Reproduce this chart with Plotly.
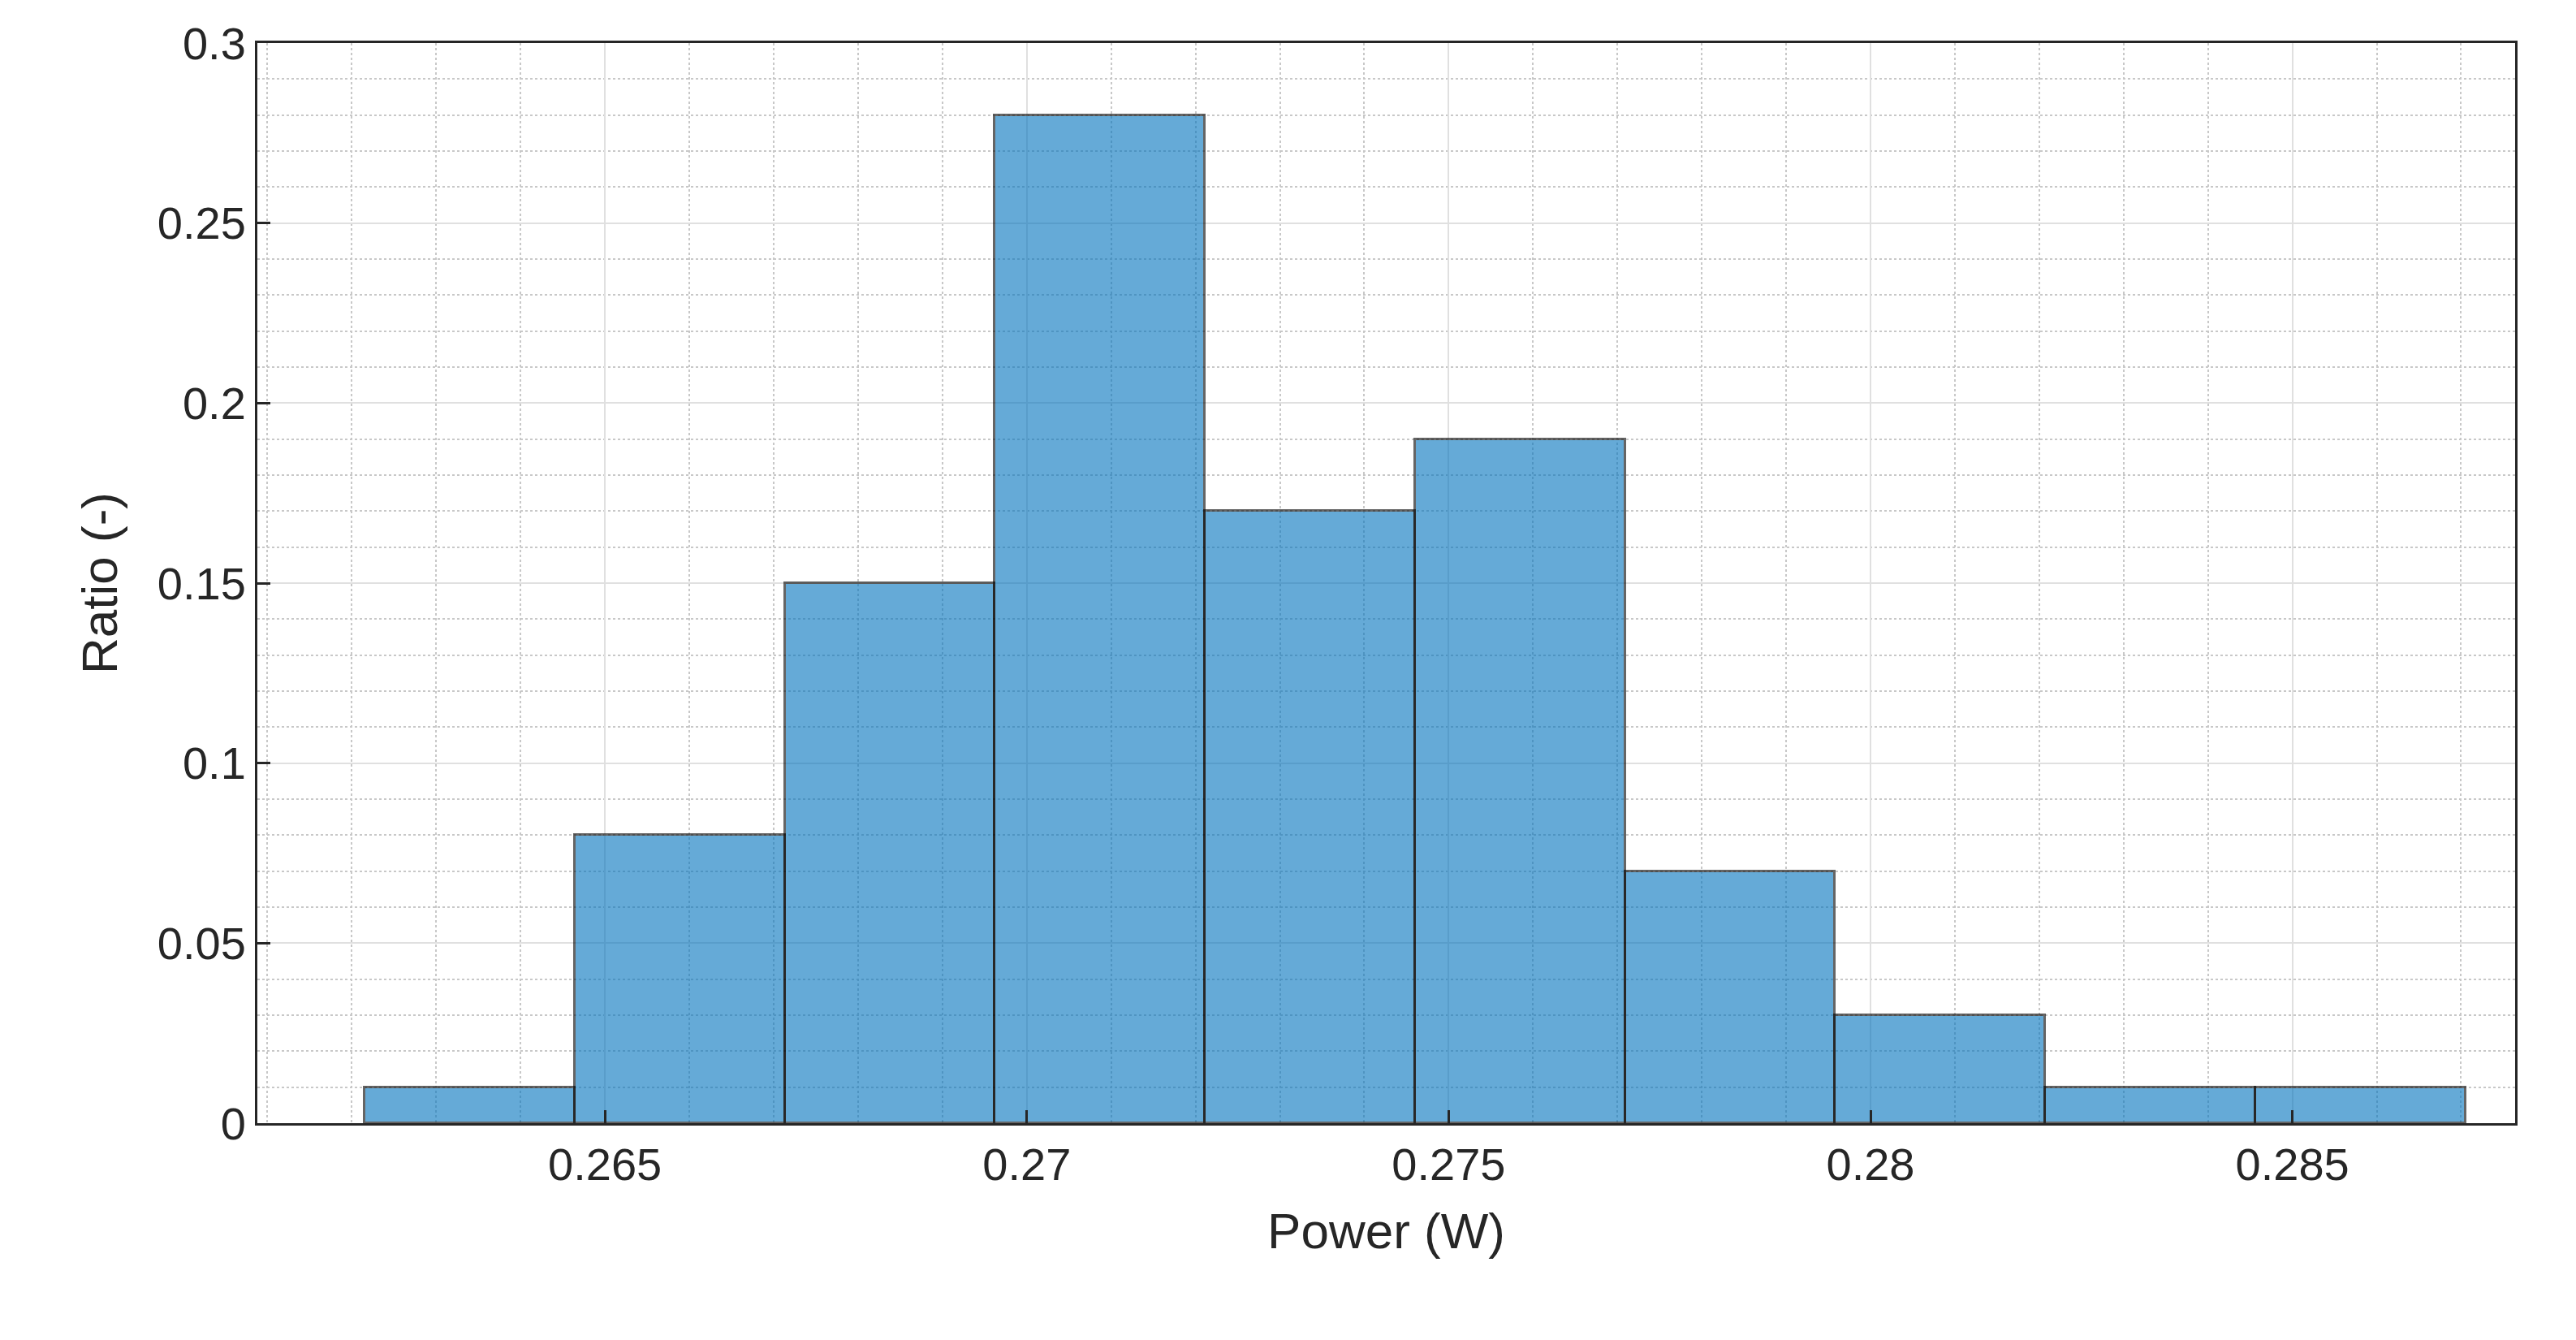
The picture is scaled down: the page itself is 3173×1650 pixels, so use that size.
import plotly.graph_objects as go

# histogram bins (Power in W) and ratios
bin_edges = [0.26215, 0.26464, 0.26713, 0.26962, 0.27211, 0.27460,
             0.27709, 0.27958, 0.28207, 0.28456, 0.28705]
ratios = [0.01, 0.08, 0.15, 0.28, 0.17, 0.19, 0.07, 0.03, 0.01, 0.01]

centers = [(a + b) / 2 for a, b in zip(bin_edges[:-1], bin_edges[1:])]
widths = [b - a for a, b in zip(bin_edges[:-1], bin_edges[1:])]

fig = go.Figure(go.Bar(
    x=centers, y=ratios, width=widths,
    marker=dict(color='#0072BD', opacity=0.6, line=dict(color='black', width=3)),
))

axis_style = dict(
    showline=True, mirror=True, linecolor='#262626', linewidth=3,
    ticks='inside', ticklen=16, tickwidth=3, tickcolor='#262626',
    showgrid=True, gridcolor='#e0e0e0', gridwidth=2, zeroline=False,
    tickfont=dict(size=56, color='#262626'),
)

fig.update_xaxes(
    range=[0.26088, 0.28764], tickvals=[0.265, 0.27, 0.275, 0.28, 0.285],
    ticktext=['0.265', '0.27', '0.275', '0.28', '0.285'],
    title=dict(text='Power (W)', font=dict(size=62, color='#262626'), standoff=30),
    minor=dict(dtick=0.001, tick0=0.26, showgrid=True, gridcolor='#c8c8c8',
               griddash='dot', gridwidth=2),
    **axis_style)
fig.update_yaxes(
    range=[0, 0.3], tickvals=[0, 0.05, 0.1, 0.15, 0.2, 0.25, 0.3],
    ticktext=['0', '0.05', '0.1', '0.15', '0.2', '0.25', '0.3'],
    title=dict(text='Ratio (-)', font=dict(size=62, color='#262626'), standoff=30),
    minor=dict(dtick=0.01, showgrid=True, gridcolor='#c8c8c8',
               griddash='dot', gridwidth=2),
    **axis_style)

fig.update_layout(
    width=3173, height=1650,
    margin=dict(l=309, r=83, t=45, b=275),
    plot_bgcolor='white', paper_bgcolor='white',
    font=dict(family='Liberation Sans, Arial, sans-serif'),
    showlegend=False, bargap=0,
)

fig.write_html("out.html")
